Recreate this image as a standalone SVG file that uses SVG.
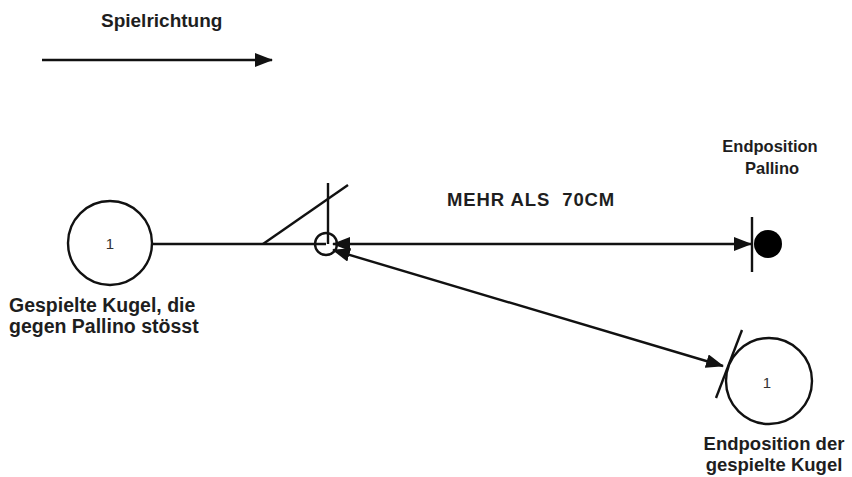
<svg xmlns="http://www.w3.org/2000/svg" width="852" height="477" viewBox="0 0 852 477">
<style>
.t{font-family:"Liberation Sans",Arial,sans-serif;font-weight:bold;fill:#1e1e1e}
.ln{stroke:#111;stroke-width:2.4;fill:none}
.ball{stroke:#111;stroke-width:2.4;fill:#fff}
.num{font-family:"Liberation Sans",Arial,sans-serif;font-size:15px;fill:#333}
</style>
<defs>
<marker id="ahb" markerWidth="18" markerHeight="14" refX="17" refY="7" orient="auto-start-reverse" markerUnits="userSpaceOnUse" viewBox="0 0 18 14">
<path d="M0,0 L18,7 L0,14 z" fill="#111"/>
</marker>
</defs>
<rect width="852" height="477" fill="#fff"/>

<g id="legend">
<text class="t" x="101" y="27" font-size="19">Spielrichtung</text>
<line class="ln" x1="42" y1="60" x2="272" y2="60" stroke-width="3" marker-end="url(#ahb)"/>
</g>

<g id="connectors">
<line class="ln" x1="153" y1="244" x2="326" y2="244"/>
<line class="ln" x1="263" y1="244" x2="348" y2="185"/>
<line class="ln" x1="328" y1="183" x2="328" y2="244"/>
<line class="ln" x1="333" y1="244" x2="751" y2="244" marker-start="url(#ahb)" marker-end="url(#ahb)"/>
<line class="ln" x1="333" y1="250" x2="723" y2="366" marker-start="url(#ahb)" marker-end="url(#ahb)"/>
<line class="ln" x1="742" y1="330" x2="716" y2="398"/>
</g>

<g id="ball-start">
<circle class="ball" cx="110" cy="243" r="42"/>
<text class="num" x="110" y="249" text-anchor="middle">1</text>
<text class="t" x="9" y="312" font-size="19.5">Gespielte Kugel, die</text>
<text class="t" x="9" y="333" font-size="19.5">gegen Pallino stösst</text>
</g>

<g id="contact">
<circle cx="326" cy="244" r="11" class="ln"/>
</g>

<g id="pallino">
<line class="ln" x1="752" y1="217" x2="752" y2="272" stroke-width="3"/>
<circle cx="768" cy="244" r="14" fill="#000"/>
<text class="t" x="770" y="152" font-size="16.5" text-anchor="middle">Endposition</text>
<text class="t" x="772" y="174" font-size="16.5" text-anchor="middle">Pallino</text>
</g>

<g id="distance-label">
<text class="t" x="447" y="206" font-size="18.5" letter-spacing="0.9" xml:space="preserve">MEHR ALS  70CM</text>
</g>

<g id="ball-end">
<circle class="ball" cx="769" cy="381" r="43" fill="none"/>
<text class="num" x="767" y="388" text-anchor="middle">1</text>
<text class="t" x="774" y="450" font-size="18.5" text-anchor="middle">Endposition der</text>
<text class="t" x="774" y="471" font-size="18.5" text-anchor="middle">gespielte Kugel</text>
</g>
</svg>
